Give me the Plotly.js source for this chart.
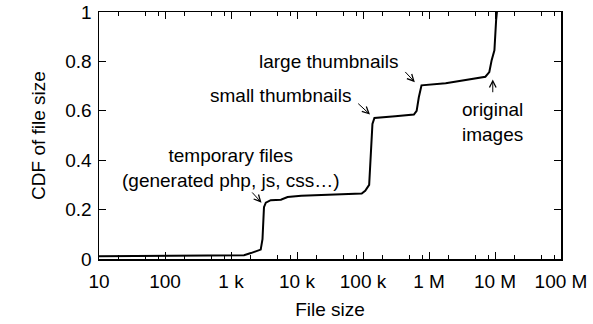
<!DOCTYPE html>
<html>
<head>
<meta charset="utf-8">
<script src="https://cdn.plot.ly/plotly-3.0.1.min.js"></script>
<style>html,body{margin:0;padding:0;background:#fff;}#chart{width:593px;height:324px;}</style>
</head>
<body>
<div id="chart"></div>
<script>
// File sizes (bytes) and CDF values
var fileSize = [10, 1575, 2000, 2370, 2820, 3000, 3160, 3370, 4000, 5700, 7200, 11600, 29500, 95600, 108000, 124000, 139000, 149000, 308000, 590000, 650000, 701000, 770000, 1790000, 7150000, 8200000, 8900000, 9800000, 10400000, 10700000];
var cdf      = [0.011, 0.015, 0.024, 0.031, 0.038, 0.08, 0.21, 0.228, 0.238, 0.240, 0.251, 0.256, 0.260, 0.265, 0.276, 0.300, 0.547, 0.571, 0.578, 0.585, 0.600, 0.655, 0.703, 0.712, 0.738, 0.757, 0.805, 0.845, 0.967, 1.0];

var xTickVals = [10, 100, 1e3, 1e4, 1e5, 1e6, 1e7, 1e8];
var xTickText = ['10', '100', '1 k', '10 k', '100 k', '1 M', '10 M', '100 M'];
var yTickVals = [0, 0.2, 0.4, 0.6, 0.8, 1];
var yTickText = ['0', '0.2', '0.4', '0.6', '0.8', '1'];
var minorFactors = [2, 5, 8];

var labels = [
  {text: 'large thumbnails', x: 29500, y: 0.798},
  {text: 'small thumbnails', x: 5700, y: 0.662},
  {text: 'original<br>images', x: 9250000, y: 0.556},
  {text: 'temporary files<br>(generated php, js, css…)', x: 986, y: 0.369}
];
var arrows = [
  {x: 610000, y: 0.716, ax: -11, ay: -11.7},
  {x: 127600, y: 0.585, ax: -13.3, ay: -12.3},
  {x: 9250000, y: 0.727, ax: 0, ay: 14.3},
  {x: 2900, y: 0.228, ax: -10.7, ay: -11.7}
];

var minorVals = [];
xTickVals.forEach(function (v) {
  if (v < 1e8) minorFactors.forEach(function (f) { minorVals.push(v * f); });
});

var font = 'Liberation Sans, Arial, Helvetica, sans-serif';
var annotations = [];
labels.forEach(function (l) {
  annotations.push({x: Math.log10(l.x), y: l.y, xref: 'x', yref: 'y', text: l.text,
    showarrow: false, font: {family: font, size: 19, color: '#000'}, align: 'center'});
});
arrows.forEach(function (a) {
  annotations.push({x: Math.log10(a.x), y: a.y, xref: 'x', yref: 'y', text: '',
    showarrow: true, ax: a.ax, ay: a.ay, arrowhead: 5, arrowsize: 1.3, arrowwidth: 1, arrowcolor: '#000'});
});

var trace = {x: fileSize, y: cdf, mode: 'lines', line: {color: '#000', width: 2}, hoverinfo: 'skip'};

var layout = {
  width: 593, height: 324,
  margin: {l: 99, r: 32, t: 12, b: 65},
  paper_bgcolor: '#fff', plot_bgcolor: '#fff',
  showlegend: false,
  font: {family: font, size: 19, color: '#000'},
  xaxis: {
    type: 'log', range: [1, 8], tickmode: 'array', tickvals: xTickVals, ticktext: xTickText,
    ticks: 'inside', ticklen: 7, tickwidth: 1, tickcolor: '#000',
    minor: {tickmode: 'array', tickvals: minorVals, ticks: 'inside', ticklen: 4, tickwidth: 1, tickcolor: '#000'},
    showline: true, linecolor: '#000', linewidth: 1.5, mirror: 'allticks',
    showgrid: false, zeroline: false, ticklabelstandoff: 5,
    title: {text: 'File size', font: {family: font, size: 19}, standoff: 11},
    tickfont: {family: font, size: 19}
  },
  yaxis: {
    range: [0, 1], tickmode: 'array', tickvals: yTickVals, ticktext: yTickText,
    ticks: 'inside', ticklen: 7, tickwidth: 1, tickcolor: '#000',
    showline: true, linecolor: '#000', linewidth: 1.5, mirror: 'allticks',
    showgrid: false, zeroline: false, ticklabelstandoff: 2,
    title: {text: 'CDF of file size', font: {family: font, size: 19}, standoff: 14},
    tickfont: {family: font, size: 19}
  },
  annotations: annotations
};

Plotly.newPlot('chart', [trace], layout, {staticPlot: true, displayModeBar: false});
</script>
</body>
</html>
